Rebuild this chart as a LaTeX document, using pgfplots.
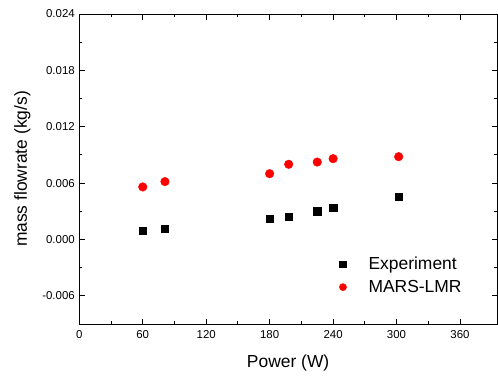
\documentclass[border=0pt]{standalone}
\usepackage{pgfplots}
\pgfplotsset{compat=1.18}
\usepackage{fontspec}
\setmainfont{Liberation Sans}
\begin{document}
\begin{tikzpicture}
\begin{axis}[
  at={(79.3bp,52bp)}, anchor=south west,
  scale only axis, width=417.7bp, height=310bp,
  xmin=0, xmax=395, ymin=-0.009, ymax=0.024,
  xtick={0,60,120,180,240,300,360},
  ytick={-0.006,0,0.006,0.012,0.018,0.024},
  yticklabels={-0.006,0.000,0.006,0.012,0.018,0.024},
  scaled y ticks=false, scaled x ticks=false,
  minor x tick num=1, minor y tick num=1,
  tick align=inside,
  major tick length=5.5bp, minor tick length=3bp,
  axis line style={line width=0.9bp},
  every tick/.style={line width=0.9bp, black},
  /pgf/number format/assume math mode=true,
  tick label style={font=\fontsize{11.5}{13}\selectfont},
  xticklabel style={yshift=-3bp},
  yticklabel style={xshift=-1bp},
  label style={font=\fontsize{17.5}{20}\selectfont},
  xlabel={Power (W)},
  ylabel={mass flowrate (kg/s)},
  xlabel shift=9bp, ylabel shift=5bp,
  legend style={draw=none, fill=none, at={(0.615,0.229)}, anchor=north west,
    font=\fontsize{17.5}{20}\selectfont, row sep=5bp, column sep=20bp},
  legend cell align=left,
]
\addplot[only marks, mark=square*, mark size=3.65bp, black,
  legend image post style={mark size=3.4bp}] coordinates {
(60,0.00091) (81,0.00117) (180,0.00219) (198,0.0024) (225,0.0030) (240,0.0034) (302,0.00457)
};
\addlegendentry{Experiment}
\addplot[only marks, mark=*, mark size=4.3bp, red, mark options={draw=red, fill=red},
  legend image post style={mark size=3.6bp}] coordinates {
(60,0.00559) (81,0.00616) (180,0.0070) (198,0.0080) (225,0.00824) (240,0.0086) (302,0.00881)
};
\addlegendentry{MARS-LMR}
\end{axis}
\pgfresetboundingbox
\path[use as bounding box] (0,0) rectangle (498bp,376bp);
\end{tikzpicture}
\end{document}
